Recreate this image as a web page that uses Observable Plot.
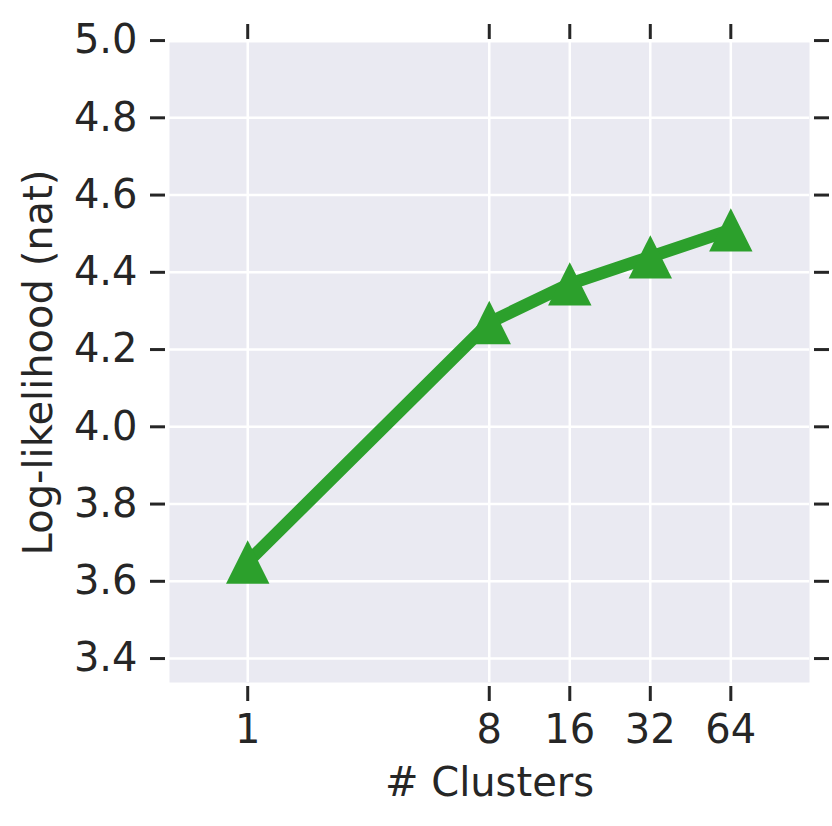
<!DOCTYPE html>
<html><head><meta charset="utf-8">
<script src="https://cdn.jsdelivr.net/npm/d3@7"></script>
<script src="https://cdn.jsdelivr.net/npm/@observablehq/plot@0.6"></script>
<style>body{margin:0;background:#fff}</style>
</head><body><div id="chart"></div>
<script>
const clusters = [1, 8, 16, 32, 64];
const logLikelihood = [3.65, 4.27, 4.37, 4.44, 4.51];
const xTicks = [1, 8, 16, 32, 64];
const yTicks = [3.4, 3.6, 3.8, 4.0, 4.2, 4.4, 4.6, 4.8, 5.0];
const xLabel = "# Clusters";
const yLabel = "Log-likelihood (nat)";

const data = clusters.map((c, i) => ({c, v: logLikelihood[i]}));
const tri = {draw(ctx, size) {
  const h = Math.sqrt(size / Math.PI);
  ctx.moveTo(0, -h); ctx.lineTo(h, h); ctx.lineTo(-h, h); ctx.closePath();
}};
const ink = "#262626";
const green = "#2ca02c";

const chart = Plot.plot({
  width: 832, height: 826,
  marginLeft: 169, marginRight: 23, marginTop: 42, marginBottom: 144,
  style: {fontFamily: "DejaVu Sans", fontSize: "40px", color: ink, background: "#fff", overflow: "visible"},
  x: {type: "log", domain: [0.51, 126]},
  y: {domain: [3.338, 4.995]},
  marks: [
    Plot.frame({fill: "#EAEAF2", stroke: null}),
    Plot.gridX(xTicks, {stroke: "white", strokeOpacity: 1, strokeWidth: 2.5}),
    Plot.gridY(yTicks.filter(t => t < 4.99), {stroke: "white", strokeOpacity: 1, strokeWidth: 2.5}),
    Plot.axisX({anchor: "bottom", ticks: xTicks, tickFormat: () => "", tickSize: 15, dy: 4, strokeWidth: 3, label: null}),
    Plot.text(xTicks, {x: d => d, text: d => String(d), frameAnchor: "bottom", lineAnchor: "top", dy: 32, fill: ink}),
    Plot.axisX({anchor: "top", ticks: xTicks, tickFormat: () => "", tickSize: 15, dy: -4, strokeWidth: 3, label: null}),
    Plot.axisY({anchor: "left", ticks: yTicks, tickFormat: d3.format(".1f"), tickSize: 15, tickPadding: 13, dx: -4, strokeWidth: 3, label: null}),
    Plot.axisY({anchor: "right", ticks: yTicks, tickFormat: () => "", tickSize: 15, dx: 4, strokeWidth: 3, label: null}),
    Plot.line(data, {x: "c", y: "v", stroke: green, strokeWidth: 12.5, strokeLinejoin: "round"}),
    Plot.dot(data, {x: "c", y: "v", symbol: tri, r: 21.7, fill: green, stroke: null}),
    Plot.text([xLabel], {frameAnchor: "bottom", dy: 101, lineAnchor: "middle", textAnchor: "middle", fill: ink}),
    Plot.text([yLabel], {frameAnchor: "left", rotate: -90, dx: -130, lineAnchor: "middle", textAnchor: "middle", fill: ink})
  ]
});
document.getElementById("chart").appendChild(chart);
</script>
</body></html>
